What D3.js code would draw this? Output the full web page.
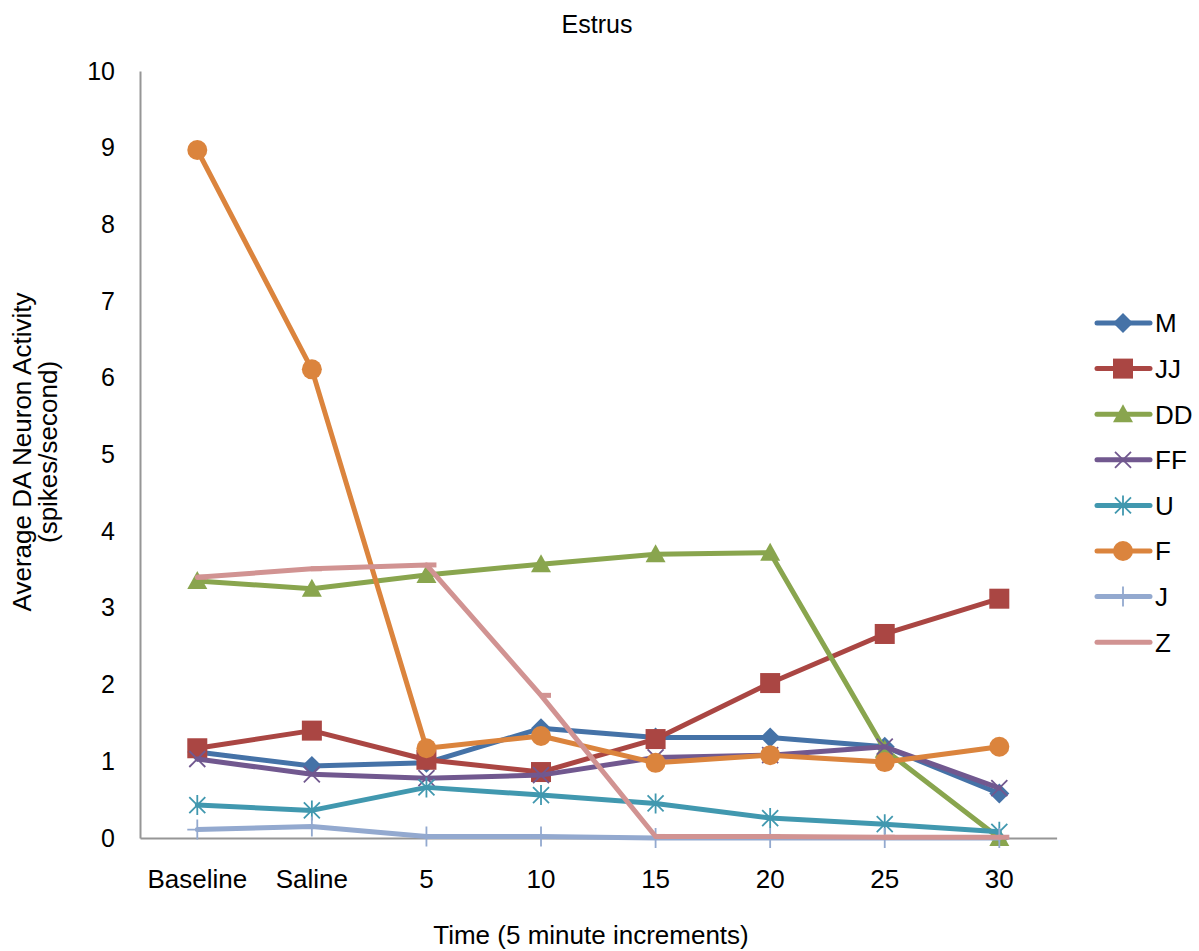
<!DOCTYPE html>
<html><head><meta charset="utf-8">
<script src="https://cdn.jsdelivr.net/npm/d3@7"></script>
<style>body{margin:0;background:#fff;} svg{display:block;font-family:"Liberation Sans",Arial,sans-serif;}</style>
</head><body>
<svg id="c" width="1199" height="951"></svg>
<script>
const categories = ["Baseline","Saline","5","10","15","20","25","30"];
const yTicks = [0,1,2,3,4,5,6,7,8,9,10];
const seriesNames = ["M","JJ","DD","FF","U","F","J","Z"];
const M  = [1.12, 0.94, 0.98, 1.43, 1.31, 1.31, 1.19, 0.58];
const JJ = [1.17, 1.40, 1.02, 0.86, 1.29, 2.02, 2.66, 3.12];
const DD = [3.35, 3.25, 3.43, 3.57, 3.70, 3.72, 1.15, 0.00];
const FF = [1.03, 0.83, 0.78, 0.82, 1.05, 1.08, 1.19, 0.65];
const U  = [0.43, 0.36, 0.66, 0.56, 0.45, 0.26, 0.18, 0.08];
const F  = [8.97, 6.11, 1.17, 1.33, 0.98, 1.08, 0.99, 1.19];
const J  = [0.11, 0.15, 0.02, 0.02, 0.00, 0.00, 0.00, 0.00];
const Z  = [3.40, 3.51, 3.56, 1.86, 0.02, 0.02, 0.01, 0.01];
const seriesValues = [M, JJ, DD, FF, U, F, J, Z];
const colors = ["#4572A7","#AA4643","#89A54E","#71588F","#4198AF","#DB843D","#93A9CF","#D19392"];
const markers = ["diamond","square","triangle","x","star","circle","plus","dash"];

const FONT = "Liberation Sans, Arial, sans-serif";
const svg = d3.select("#c");
const x = d3.scaleBand().domain(categories).range([140, 1056.6]);
const y = d3.scaleLinear().domain([0,10]).range([838, 71]);
const cx = d => x(d) + x.bandwidth()/2;

// axes
const yAxis = svg.append("g").attr("transform","translate(140,0)")
  .call(d3.axisLeft(y).tickValues(yTicks).tickSize(0).tickPadding(25).tickFormat(d3.format("d")));
yAxis.select(".domain").attr("stroke","#969696").attr("stroke-width",2);
yAxis.selectAll("text").attr("font-size",25).attr("fill","#000").attr("font-family",FONT);

const xAxis = svg.append("g").attr("transform","translate(0,838)")
  .call(d3.axisBottom(x).tickSize(0).tickPadding(0));
xAxis.select(".domain").attr("stroke","#969696").attr("stroke-width",2);
xAxis.selectAll("text").attr("font-size",26).attr("fill","#000").attr("font-family",FONT)
  .attr("dy",null).attr("y",50);

function drawMarker(g, type, px, py, color){
  const s = 10;
  if(type==="diamond"){
    g.append("path").attr("d",`M${px},${py-s}L${px+s},${py}L${px},${py+s}L${px-s},${py}Z`).attr("fill",color);
  } else if(type==="square"){
    g.append("rect").attr("x",px-s).attr("y",py-s).attr("width",2*s).attr("height",2*s).attr("fill",color);
  } else if(type==="triangle"){
    g.append("path").attr("d",`M${px},${py-s}L${px+s},${py+s*0.8}L${px-s},${py+s*0.8}Z`).attr("fill",color);
  } else if(type==="circle"){
    g.append("circle").attr("cx",px).attr("cy",py).attr("r",s).attr("fill",color);
  } else if(type==="x"){
    const k=8;
    g.append("path").attr("d",`M${px-k},${py-k}L${px+k},${py+k}M${px-k},${py+k}L${px+k},${py-k}`)
      .attr("stroke",color).attr("stroke-width",1.8).attr("fill","none");
  } else if(type==="star"){
    const k=8;
    g.append("path").attr("d",`M${px-k},${py-k}L${px+k},${py+k}M${px-k},${py+k}L${px+k},${py-k}M${px},${py-s}L${px},${py+s}`)
      .attr("stroke",color).attr("stroke-width",1.8).attr("fill","none");
  } else if(type==="plus"){
    g.append("path").attr("d",`M${px-s},${py}L${px+s},${py}M${px},${py-s}L${px},${py+s}`)
      .attr("stroke",color).attr("stroke-width",1.8).attr("fill","none");
  } else if(type==="dash"){
    g.append("path").attr("d",`M${px-1},${py}L${px+10},${py}`)
      .attr("stroke",color).attr("stroke-width",5).attr("fill","none");
  }
}

const line = d3.line().x((d,i)=>cx(categories[i])).y(d=>y(d));
seriesValues.forEach((vals, si) => {
  const g = svg.append("g");
  g.append("path").attr("d", line(vals)).attr("fill","none").attr("stroke",colors[si])
    .attr("stroke-width",5).attr("stroke-linejoin","round").attr("stroke-linecap","round");
  vals.forEach((v,i)=> drawMarker(g, markers[si], cx(categories[i]), y(v), colors[si]));
});

// legend
const leg = svg.append("g");
seriesNames.forEach((n,i)=>{
  const ly = 323 + i*45.6;
  const g = leg.append("g");
  g.append("line").attr("x1",1097).attr("x2",1150).attr("y1",ly).attr("y2",ly)
    .attr("stroke",colors[i]).attr("stroke-width",5).attr("stroke-linecap","round");
  if(markers[i]!=="dash") drawMarker(g, markers[i], 1123, ly, colors[i]);
  g.append("text").attr("x",1155).attr("y",ly).attr("dy","0.36em").attr("font-size",26).attr("fill","#000").text(n);
});

// titles
svg.append("text").attr("x",597).attr("y",24).attr("dy","0.36em").attr("text-anchor","middle").attr("font-size",25).text("Estrus");
svg.append("text").attr("x",591).attr("y",935).attr("dy","0.36em").attr("text-anchor","middle").attr("font-size",26).text("Time (5 minute increments)");
const yl = svg.append("text").attr("transform","translate(0,452) rotate(-90)").attr("text-anchor","middle").attr("font-size",26);
yl.append("tspan").attr("x",0).attr("y",31).text("Average DA Neuron Activity");
yl.append("tspan").attr("x",0).attr("y",57).text("(spikes/second)");
</script>
</body></html>
